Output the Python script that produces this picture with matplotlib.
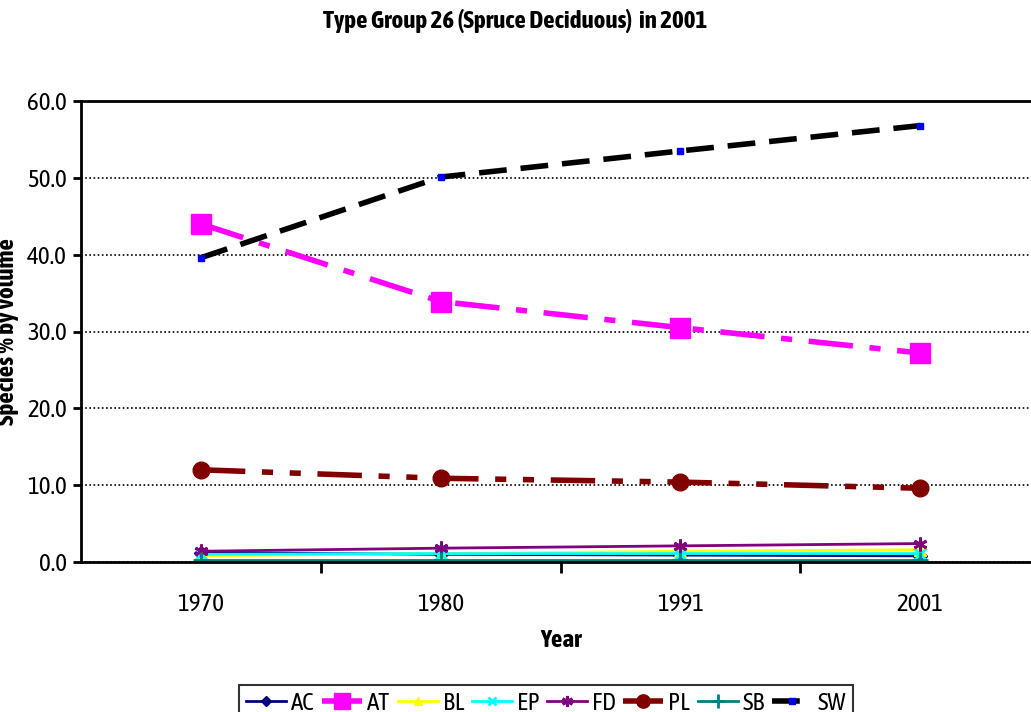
import matplotlib
matplotlib.use('Agg')
import matplotlib.pyplot as plt
from matplotlib.font_manager import FontProperties
from matplotlib.ticker import FixedLocator

NARROW = ['Liberation Sans Narrow', 'Asap Condensed', 'DejaVu Sans']


def narrow(size, bold=False):
    return FontProperties(family=NARROW, size=size, weight='bold' if bold else 'normal')


years = ['1970', '1980', '1991', '2001']
ac = [1.2, 1.0, 0.9, 0.8]
at = [44.0, 33.9, 30.5, 27.2]
bl = [0.8, 1.1, 1.4, 1.6]
ep = [1.0, 1.1, 1.1, 1.1]
fd = [1.4, 1.8, 2.1, 2.4]
pl = [12.0, 10.9, 10.4, 9.6]
sb = [0.2, 0.2, 0.2, 0.2]
sw = [39.6, 50.1, 53.5, 56.8]

fig = plt.figure(figsize=(10.31, 7.12), dpi=100)
ax = fig.add_axes([81 / 1031, 150 / 712, 959 / 1031, 461 / 712])

x = range(len(years))
ax.plot(x, ac, color='#000080', lw=2, marker='D', ms=7, label='AC')
ax.plot(x, at, color='#ff00ff', lw=4, ls=(0, (8, 3, 2, 3)), marker='s', ms=14, label='AT')
ax.plot(x, bl, color='#ffff00', lw=2, marker='^', ms=8, label='BL')
ax.plot(x, ep, color='#00ffff', lw=2, marker='x', ms=8, mew=2, label='EP')
ax.plot(x, fd, color='#800080', lw=2, marker=(6, 2, 0), ms=10, mew=2, label='FD')
ax.plot(x, pl, color='#800000', lw=4, ls=(0, (8, 3, 2, 3, 2, 3)), marker='o', ms=12, label='PL')
ax.plot(x, sb, color='#008080', lw=2, marker='+', ms=12, mew=2, label='SB')
ax.plot(x, sw, color='black', lw=4, ls=(0, (5, 2.5)), marker='s', ms=5,
        mfc='#0000ff', mec='#0000ff', label='SW')

ax.set_xlim(-0.5, 3.5)
ax.set_ylim(0, 60)
ax.set_xticks(list(x))
ax.set_xticklabels(years, fontproperties=narrow(18))
ax.xaxis.set_minor_locator(FixedLocator([0.5, 1.5, 2.5]))
ax.tick_params(axis='x', which='major', length=0, pad=22)
ax.tick_params(axis='x', which='minor', length=8, width=2, direction='out')
ax.set_yticks([0, 10, 20, 30, 40, 50, 60])
ax.set_yticklabels(['%.1f' % v for v in [0, 10, 20, 30, 40, 50, 60]], fontproperties=narrow(18))
ax.tick_params(axis='y', length=6, width=2, direction='out', pad=4)
ax.yaxis.grid(True, color='black', ls=(0, (1, 1.5)), lw=1.2)
for s in ['left', 'bottom', 'top']:
    ax.spines[s].set_linewidth(2)
ax.spines['right'].set_visible(False)

ax.set_xlabel('Year', fontproperties=narrow(18, True), labelpad=10)
ax.set_ylabel('Species % by volume', fontproperties=narrow(18, True))
ax.yaxis.set_label_coords(-62 / 959, 0.5)
fig.text(0.5, 0.97, 'Type Group 26 (Spruce Deciduous)  in 2001', ha='center', va='center',
         fontproperties=narrow(18, True))

leg = fig.legend(loc='upper center', bbox_to_anchor=(546 / 1031, 1 - 672 / 712), ncol=8,
                 prop=narrow(18), frameon=True, fancybox=False, handlelength=1.6,
                 handletextpad=0.2, columnspacing=0.3, borderpad=0.3, markerscale=0.8)
leg.get_frame().set_edgecolor('black')
leg.get_frame().set_linewidth(1.5)

fig.savefig('out.png', dpi=100)
